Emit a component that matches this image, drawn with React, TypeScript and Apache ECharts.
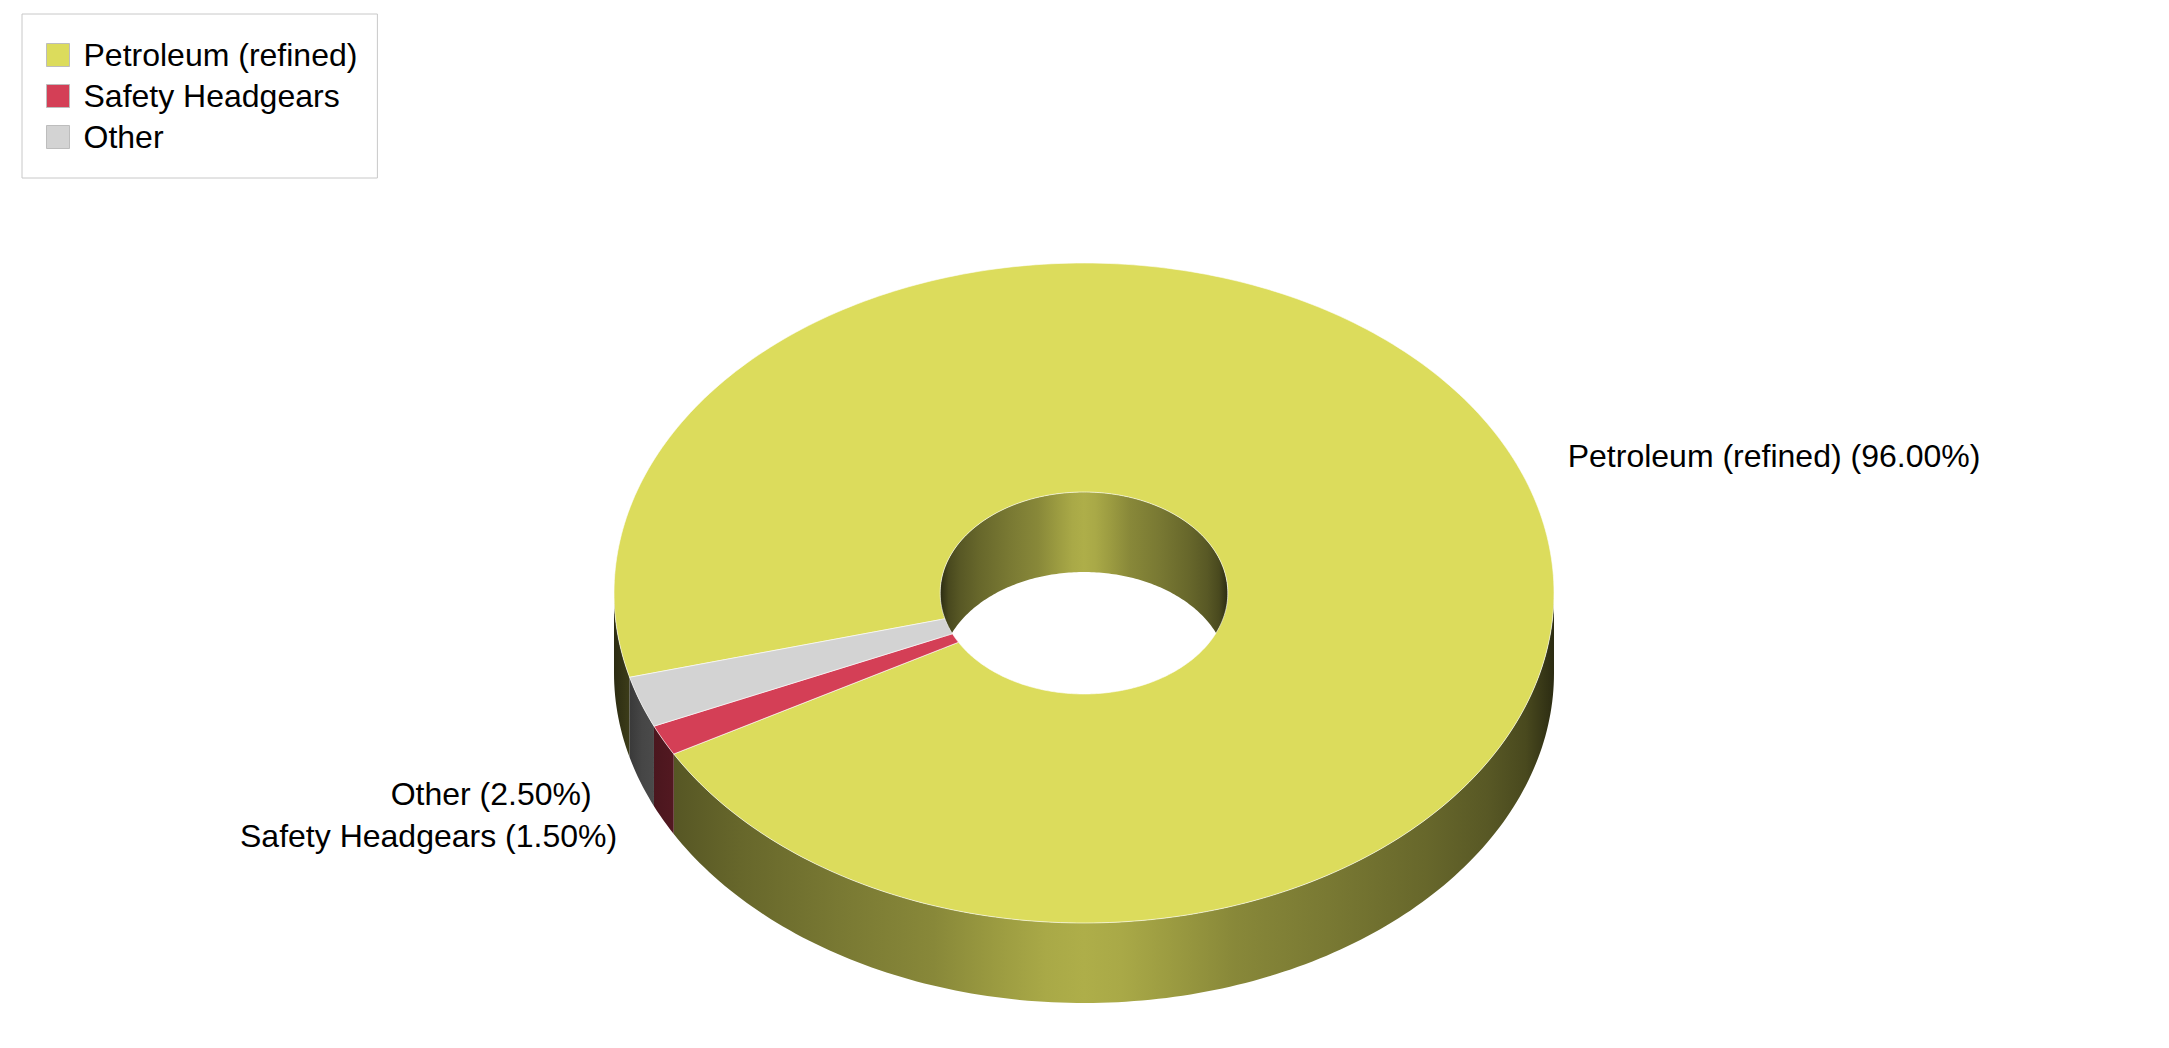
import { useEffect, useRef } from "react";
import * as echarts from "echarts";

// 数据
const CATEGORIES = ["Petroleum (refined)", "Safety Headgears", "Other"];
const SHARES = [96.0, 1.5, 2.5];
const COLORS = ["#dcdc5c", "#d43f56", "#d3d3d3"];

const TOTAL = SHARES.reduce((a, b) => a + b, 0);
const BEFORE = SHARES.map((_, i) => SHARES.slice(0, i).reduce((a, b) => a + b, 0));

// 3D donut layout (px)
const START_DEG = 165.2;      // screen angle, clockwise from 3 o'clock
const CX = 1084, CY = 593, RX = 470, RY = 330, DEPTH = 80, INNER = 0.306;
const LABEL_R = 1.11;
const FONT = '"Liberation Sans", Arial, sans-serif';
const FONT_SIZE = 32;

// side wall shading: [offset, brightness]
const HALF: [number, number][] = [
  [0, 0.2], [0.03, 0.33], [0.07, 0.4], [0.135, 0.47], [0.24, 0.55],
  [0.34, 0.62], [0.41, 0.71], [0.46, 0.77], [0.5, 0.79],
];
const SHADE: [number, number][] = [...HALF, ...HALF.slice(0, -1).reverse().map(([o, f]) => [1 - o, f] as [number, number])];

function shadeHex(hex: string, f: number) {
  const n = parseInt(hex.slice(1), 16);
  const c = [(n >> 16) & 255, (n >> 8) & 255, n & 255].map(v => Math.round(v * f));
  return `rgb(${c[0]},${c[1]},${c[2]})`;
}

function wallFill(hex: string, x0: number, x1: number) {
  return {
    type: "linear", x: x0, y: 0, x2: x1, y2: 0, global: true,
    colorStops: SHADE.map(([offset, f]) => ({ offset, color: shadeHex(hex, f) })),
  };
}

const DEG = Math.PI / 180;

function arc(rx: number, ry: number, from: number, to: number, dy = 0) {
  const n = Math.max(2, Math.ceil(Math.abs(to - from) / DEG));
  const pts: number[][] = [];
  for (let k = 0; k <= n; k++) {
    const t = from + ((to - from) * k) / n;
    pts.push([CX + rx * Math.cos(t), CY + ry * Math.sin(t) + dy]);
  }
  return pts;
}

// 前半 (lo=0) / 后半 (lo=π) 可见区间
function clipTo(a0: number, a1: number, lo: number) {
  const out: [number, number][] = [];
  for (let k = -1; k <= 2; k++) {
    const s = Math.max(a0, lo + 2 * Math.PI * k);
    const e = Math.min(a1, lo + Math.PI + 2 * Math.PI * k);
    if (e > s) out.push([s, e]);
  }
  return out;
}

function renderItem(params: any, api: any) {
  const i = params.seriesIndex;
  const value = api.value(0) as number;
  const before = api.value(1) as number;
  const a0 = START_DEG * DEG + (before / TOTAL) * 2 * Math.PI;
  const a1 = a0 + (value / TOTAL) * 2 * Math.PI;
  const color = COLORS[i];
  const irx = RX * INNER, iry = RY * INNER;
  const children: any[] = [];

  for (const [s, e] of clipTo(a0, a1, 0)) {
    children.push({
      type: "polygon", z2: 1,
      shape: { points: [...arc(RX, RY, s, e), ...arc(RX, RY, e, s, DEPTH)] },
      style: { fill: wallFill(color, CX - RX, CX + RX) },
    });
  }
  for (const [s, e] of clipTo(a0, a1, Math.PI)) {
    children.push({
      type: "polygon", z2: 1,
      shape: { points: [...arc(irx, iry, s, e), ...arc(irx, iry, e, s, DEPTH)] },
      style: { fill: wallFill(color, CX - irx, CX + irx) },
    });
  }
  children.push({
    type: "polygon", z2: 5,
    shape: { points: [...arc(RX, RY, a0, a1), ...arc(irx, iry, a1, a0)] },
    style: { fill: color, stroke: "rgba(255,255,255,0.6)", lineWidth: 1 },
  });

  const mid = (a0 + a1) / 2;
  const cos = Math.cos(mid), sin = Math.sin(mid);
  children.push({
    type: "text", z2: 10,
    x: CX + LABEL_R * RX * cos,
    y: CY + LABEL_R * RY * sin + (sin > 0 ? DEPTH : 0),
    style: {
      text: `${CATEGORIES[i]} (${((value / TOTAL) * 100).toFixed(2)}%)`,
      fill: "#000", fontSize: FONT_SIZE, fontFamily: FONT,
      align: cos >= 0 ? "left" : "right", verticalAlign: "middle",
    },
  });
  return { type: "group", children };
}

export default function App() {
  const ref = useRef<HTMLDivElement>(null);

  useEffect(() => {
    if (!ref.current) return;
    const inst = echarts.init(ref.current, undefined, { renderer: "svg" });
    inst.setOption({
      animation: false,
      backgroundColor: "#fff",
      legend: {
        orient: "vertical", left: 22, top: 14,
        padding: [25, 20, 25, 24],
        itemWidth: 23, itemHeight: 23, itemGap: 9, icon: "rect",
        borderColor: "#c8c8c8", borderWidth: 1,
        itemStyle: { borderColor: "#bdbdbd", borderWidth: 1 },
        textStyle: { fontSize: FONT_SIZE, fontFamily: FONT, color: "#000", padding: [0, 0, 0, 9] },
        selectedMode: false,
        data: CATEGORIES,
      },
      series: CATEGORIES.map((name, i) => ({
        type: "custom", name, coordinateSystem: "none",
        itemStyle: { color: COLORS[i] },
        data: [[SHARES[i], BEFORE[i]]],
        renderItem,
      })),
    });
    const onResize = () => inst.resize();
    window.addEventListener("resize", onResize);
    return () => { window.removeEventListener("resize", onResize); inst.dispose(); };
  }, []);

  return <div ref={ref} style={{ position: "fixed", left: 0, top: 0, width: "100vw", height: "100vh" }} />;
}
